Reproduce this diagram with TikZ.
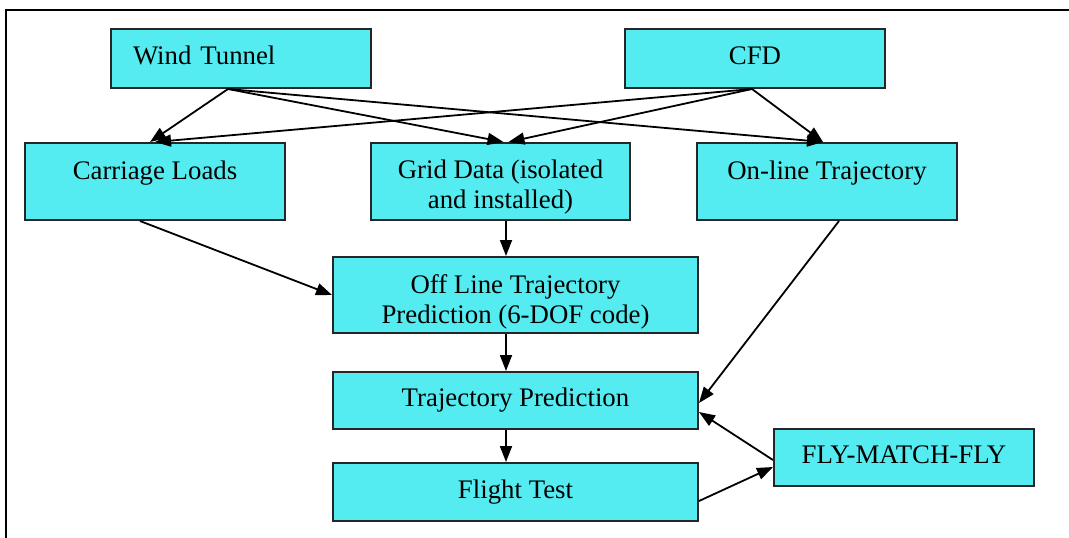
\documentclass[tikz,border=0pt]{standalone}
\usepackage{fontspec}
\setmainfont{Liberation Serif}
\usepackage{xcolor}
\usetikzlibrary{positioning,arrows.meta}

\definecolor{boxcyan}{RGB}{84,236,240}

\begin{document}
\begin{tikzpicture}[
    x=1pt, y=1pt,
    box/.style={draw=black!85, line width=2pt, fill=boxcyan, inner sep=0pt,
                minimum width=260pt, minimum height=59pt, align=center,
                text height=18pt, text depth=6pt,
                font=\fontsize{26.8}{30}\selectfont},
    tall/.style={box, minimum height=77pt, text depth=23pt},
    twoline/.style={tall, text height=59pt, text depth=6pt},
    wide/.style={box, minimum width=365pt},
    arr/.style={-{Triangle[length=16pt, width=12pt]}, line width=1.8pt},
    frame/.style={line width=2.5pt},
  ]
  \useasboundingbox (0,0) rectangle (1069,-538);
  \draw[frame] (6,-538) |- (1069,-10);

  \node[box, text width=216pt, align=left] (wt) at (241,-58.5) {Wind Tunnel};
  \node[box, right=252pt of wt]            (cfd) {CFD};
  \node[twoline, minimum width=259pt] (gd) at (500.5,-181.5) {Grid Data (isolated\\and installed)};
  \node[tall, left=84pt of gd]    (cl)  {Carriage Loads};
  \node[tall, right=65pt of gd]   (ol)  {On-line Trajectory};
  \node[twoline, wide, minimum height=76pt, text height=62pt, below=35pt of gd, xshift=15pt] (off)
       {Off Line Trajectory\\Prediction (6-DOF code)};
  \node[wide, minimum height=57pt, below=37pt of off] (tp)  {Trajectory Prediction};
  \node[wide, minimum height=58pt, below=32pt of tp]  (ft)  {Flight Test};
  \node[box, minimum height=57pt, right=74pt of tp, yshift=-57pt] (fmf) {FLY-MATCH-FLY};

  \draw[arr] ([xshift=-13pt]wt.south)  -- ([xshift=-5pt]cl.north);
  \draw[arr] ([xshift=-13pt]wt.south)  -- ([xshift=3pt]gd.north);
  \draw[arr] ([xshift=-13pt]wt.south)  -- ([xshift=-4pt]ol.north);
  \draw[arr] ([xshift=-3pt]cfd.south)  -- (cl.north);
  \draw[arr] ([xshift=-3pt]cfd.south)  -- ([xshift=8pt]gd.north);
  \draw[arr] ([xshift=-3pt]cfd.south)  -- ([xshift=-4pt]ol.north);
  \draw[arr] ([xshift=-15pt]cl.south)  -- (off.west);
  \draw[arr] ([xshift=5.5pt]gd.south)  -- ([xshift=-9.5pt]off.north);
  \draw[arr] ([xshift=12pt]ol.south)   -- ([yshift=-2.5pt]tp.east);
  \draw[arr] ([xshift=-9.5pt]off.south) -- ([xshift=-9.5pt]tp.north);
  \draw[arr] ([xshift=-9.5pt]tp.south) -- ([xshift=-9.5pt]ft.north);
  \draw[arr] ([yshift=-9pt]ft.east)    -- ([yshift=-9.5pt]fmf.west);
  \draw[arr] ([yshift=-2.5pt]fmf.west) -- ([yshift=-11.5pt]tp.east);
\end{tikzpicture}
\end{document}
